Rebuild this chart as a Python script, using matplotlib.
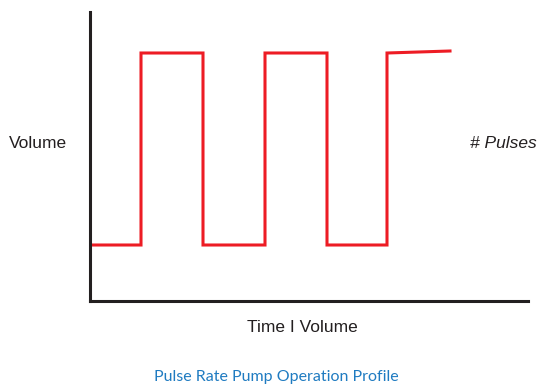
import matplotlib
matplotlib.use("Agg")
import matplotlib.pyplot as plt

# pulse profile: time breakpoints and volume levels
time = [0, 51, 51, 113, 113, 175, 175, 237, 237, 297, 297, 360]
volume = [56, 56, 248, 248, 56, 56, 248, 248, 56, 56, 248, 250]

y_label = "Volume"
right_label = "# Pulses"
x_label = "Time I Volume"
caption = "Pulse Rate Pump Operation Profile"

fig = plt.figure(figsize=(5.41, 3.86), dpi=100)
ax = fig.add_axes([90 / 541, 85 / 386, 438 / 541, 289 / 386])

ax.plot(time, volume, color="#ed1c24", linewidth=2.2, solid_joinstyle="miter")
ax.set_xlim(0, 438)
ax.set_ylim(0, 289)

for side in ["top", "right"]:
    ax.spines[side].set_visible(False)
for side in ["left", "bottom"]:
    ax.spines[side].set_linewidth(2.2)
    ax.spines[side].set_color("#231f20")
ax.set_xticks([])
ax.set_yticks([])

fig.text(38 / 541, 1 - 143 / 386, y_label, ha="center", va="center",
         fontsize=12.5, family="Liberation Sans", color="#231f20")
fig.text(503 / 541, 1 - 143 / 386, right_label, ha="center", va="center",
         fontsize=12.5, family="Liberation Sans", style="italic", color="#231f20")
fig.text(302 / 541, 1 - 328 / 386, x_label, ha="center", va="center",
         fontsize=12.5, family="Liberation Sans", color="#231f20")
fig.text(276 / 541, 1 - 377 / 386, caption, ha="center", va="center",
         fontsize=11.5, family="Lato", color="#1f7bc1")

fig.savefig("out.png", dpi=100)
